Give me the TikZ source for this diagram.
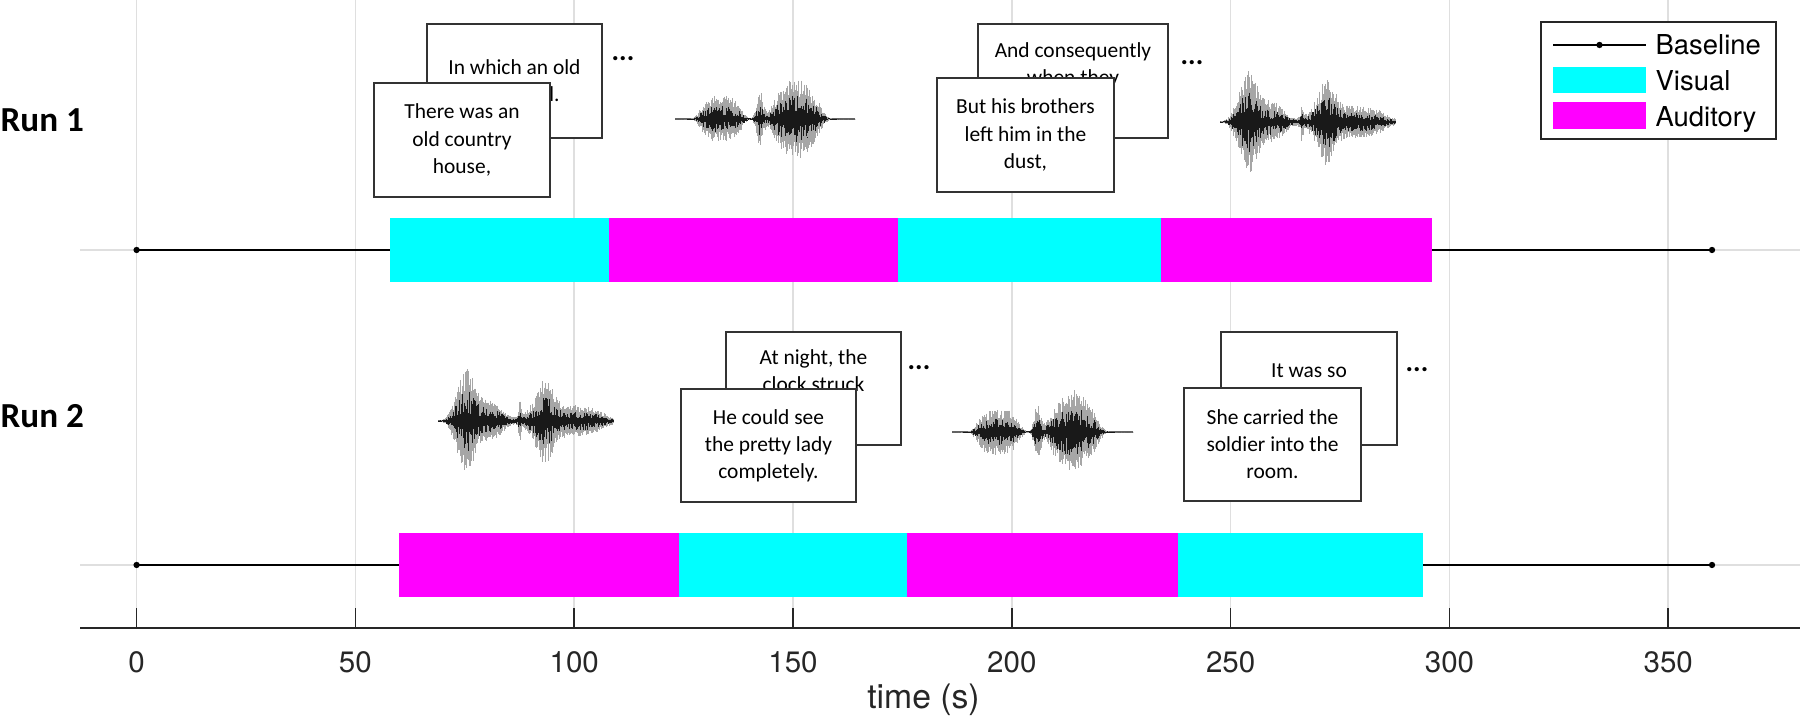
\documentclass[tikz,border=0pt]{standalone}
\usepackage{fontspec}
\setmainfont{TeX Gyre Heros}
\newfontfamily\cardfont{Carlito}
\usetikzlibrary{positioning,calc}
\definecolor{vis}{RGB}{0,255,255}
\definecolor{aud}{RGB}{255,0,255}
\definecolor{axisgray}{RGB}{38,38,38}
\definecolor{gridgray}{RGB}{223,223,223}
\newcommand{\envA}{23*fb(\wu,0.255,0.12)+27*gb(\wu,0.472,0.025)+33*fb(\wu,0.67,0.14)+9*gb(\wu,0.67,0.05)}
\newcommand{\envB}{32*gb(\wu,0.16,0.06)+21*fb(\wu,0.23,0.16)+15*gb(\wu,0.468,0.008)+28*gb(\wu,0.61,0.06)+16*fb(\wu,0.72,0.25)}
\newcommand{\speech}[2]{%
  \draw[black!60,line width=0.3pt] (0,0) -- (#1,0);
  \foreach \i in {0,...,240}{
    \pgfmathsetmacro{\wu}{\i/240}
    \pgfmathsetmacro{\we}{#2}
    \pgfmathsetmacro{\wa}{\we*(0.55+0.45*rnd)/100}
    \pgfmathsetmacro{\wb}{\we*(0.55+0.45*rnd)/100}
    \pgfmathsetmacro{\wc}{\we*(0.15+0.45*rnd)/100}
    \pgfmathsetmacro{\wd}{\we*(0.15+0.45*rnd)/100}
    \draw[black!35,line width=0.25pt] (\wu*#1,\wa) -- (\wu*#1,-\wb);
    \draw[black!90,line width=0.25pt] (\wu*#1,\wc) -- (\wu*#1,-\wd);}}

\begin{document}
\begin{tikzpicture}[x=1cm,y=1cm,
  declare function={
    gb(\ta,\tc,\tw)=exp(-min(abs((\ta-\tc)/\tw),3)*min(abs((\ta-\tc)/\tw),3));
    fb(\ta,\tc,\tw)=exp(-min(abs((\ta-\tc)/\tw),2)*min(abs((\ta-\tc)/\tw),2)*min(abs((\ta-\tc)/\tw),2)*min(abs((\ta-\tc)/\tw),2));},
  gridline/.style={draw=gridgray,line width=0.45pt},
  axisline/.style={draw=axisgray,line width=0.45pt},
  restline/.style={draw=black,line width=0.45pt},
  visbar/.style={fill=vis},
  audbar/.style={fill=aud},
  ticklab/.style={font=\fontsize{8.4}{10}\selectfont,text=axisgray,inner sep=0pt},
  legtext/.style={anchor=base west,font=\fontsize{7.8}{9}\selectfont,inner sep=0pt},
  card/.style={draw=black!80,fill=white,line width=0.45pt,align=center,inner sep=0pt,minimum height=1.14cm,font=\cardfont\fontsize{6.1}{7.7}\selectfont},
  more/.style={font=\cardfont\bfseries\fontsize{8}{8}\selectfont,inner sep=0pt},
  run/.style={anchor=west,inner sep=0pt,font=\cardfont\bfseries\fontsize{10}{12}\selectfont}]
\useasboundingbox (0,0) rectangle (18,7.23);
\pgfmathsetseed{11}
\begin{scope}[shift={(1.366,0)},x=0.04376cm]
\foreach \t in {0,50,...,350}{\draw[gridline] (\t,0.95) -- (\t,7.23);}
\draw[gridline] (-12.9,4.73) -- (380,4.73);
\draw[gridline] (-12.9,1.58) -- (380,1.58);
\coordinate (b1s) at (0,4.73);
\coordinate (b1e) at (360,4.73);
\coordinate (b2s) at (0,1.58);
\coordinate (b2e) at (360,1.58);
\draw[restline] (b1s) -- (b1e);
\draw[restline] (b2s) -- (b2e);
\foreach \c in {b1s,b1e,b2s,b2e}{\fill (\c) circle (0.9pt);}
\foreach \a/\b/\s in {58/108/visbar,108/174/audbar,174/234/visbar,234/296/audbar}{
  \fill[\s] (\a,4.41) rectangle (\b,5.05);}
\foreach \a/\b/\s in {60/124/audbar,124/176/visbar,176/238/audbar,238/294/visbar}{
  \fill[\s] (\a,1.26) rectangle (\b,1.90);}
\draw[axisline] (-12.9,0.95) -- (380,0.95);
\foreach \t in {0,50,...,350}{
  \draw[axisline] (\t,0.95) -- (\t,1.145);
  \node[ticklab] (l\t) at (\t,0.61) {\t};}
\end{scope}
\node[font=\fontsize{9.6}{11}\selectfont,text=axisgray,inner sep=0pt] (xlab) at (9.235,0.23) {time (s)};
\node[run] (run1) at (0,6.025) {Run 1};
\node[run] (run2) at (0,3.07) {Run 2};
\node[card,minimum width=1.75cm] (c1b) at (5.145,6.42) {In which an old\\ man lived.};
\node[card,minimum width=1.76cm] (c1f) at (4.62,5.83) {There was an\\ old country\\ house,};
\node[more] (m1) at (6.23,6.64) {...};
\node[card,minimum width=1.90cm] (c2b) at (10.73,6.42) {And consequently\\ when they\\ \strut};
\node[card,minimum width=1.77cm] (c2f) at (10.255,5.88) {But his brothers\\ left him in the\\ dust,};
\node[more] (m2) at (11.92,6.60) {...};
\node[card,minimum width=1.75cm,minimum height=1.13cm] (c3b) at (8.135,3.345) {At night, the\\ clock struck\\ \strut};
\node[card,minimum width=1.75cm,minimum height=1.13cm] (c3f) at (7.685,2.775) {He could see\\ the pretty lady\\ completely.};
\node[more] (m3) at (9.19,3.55) {...};
\node[card,minimum width=1.76cm,minimum height=1.13cm] (c4b) at (13.09,3.345) {It was so\\ \strut};
\node[card,minimum width=1.77cm,minimum height=1.13cm] (c4f) at (12.725,2.785) {She carried the\\ soldier into the\\ room.};
\node[more] (m4) at (14.17,3.53) {...};
\begin{scope}[shift={(6.75,6.04)}]\speech{1.80}{\envA}\end{scope}
\begin{scope}[shift={(12.20,6.01)}]\speech{1.75}{\envB}\end{scope}
\begin{scope}[shift={(4.38,3.02)}]\speech{1.75}{\envB}\end{scope}
\begin{scope}[shift={(9.52,2.91)}]\speech{1.81}{\envA}\end{scope}
\draw[axisline,fill=white] (15.41,5.84) rectangle (17.76,7.01);
\coordinate (lga) at (15.53,6.78);
\coordinate (lgb) at (16.46,6.78);
\draw[restline] (lga) -- (lgb);
\fill ($(lga)!0.5!(lgb)$) circle (0.9pt);
\fill[vis] (15.53,6.30) rectangle (16.46,6.56);
\fill[aud] (15.53,5.94) rectangle (16.46,6.21);
\node[legtext] (lg1) at (16.55,6.68) {Baseline};
\node[legtext] (lg2) at (16.55,6.32) {Visual};
\node[legtext] (lg3) at (16.55,5.96) {Auditory};
\end{tikzpicture}
\end{document}
